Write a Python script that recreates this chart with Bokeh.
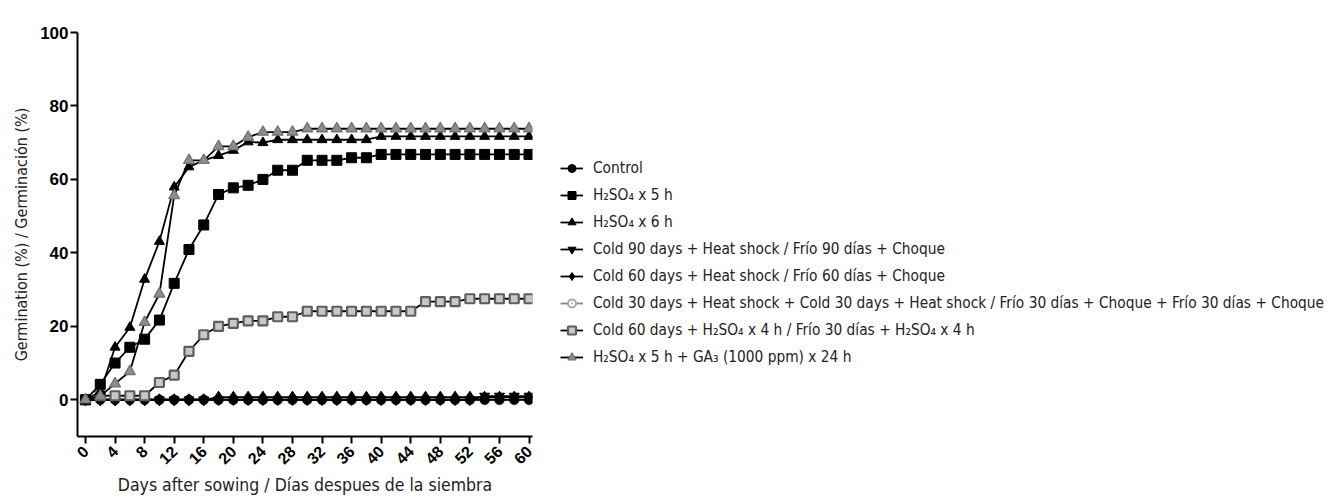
from math import pi
from bokeh.plotting import figure
from bokeh.models import Legend, LegendItem, FixedTicker, Range1d
from bokeh.embed import file_html
from bokeh.resources import INLINE

days = list(range(0, 61, 2))

control = [0] * 31
h2so4_5h = [0, 4.2, 10, 14.3, 16.5, 21.7, 31.7, 40.9, 47.6, 55.9, 57.7, 58.4, 60.0, 62.5, 62.5,
            65.2, 65.2, 65.2, 65.9, 65.9] + [66.8] * 11
h2so4_6h = [0, 2.2, 14.3, 19.7, 32.8, 43.1, 57.9, 63.4, 65.2, 66.5, 67.9, 70.2, 70.0, 70.8, 70.8,
            70.8, 70.8, 70.8, 70.8, 70.8] + [71.7] * 11
cold90_heat = [0] * 27 + [1.0] * 4
cold60_heat = [0] * 9 + [0.7] * 22
cold30_heat_cold30_heat = [0] * 31
cold60_h2so4_4h = [0, 1.1, 1.1, 1.1, 1.1, 4.7, 6.7, 13.2, 17.7, 20.0, 20.8, 21.5, 21.5, 22.6, 22.6] \
    + [24.1] * 8 + [26.7] * 3 + [27.5] * 5
h2so4_5h_ga3 = [0, 1.0, 4.4, 7.7, 21.1, 28.8, 55.6, 65.2, 65.2, 69.0, 69.0, 71.5, 72.9, 72.9, 72.9] \
    + [73.8] * 16

labels = [
    "Control",
    "H\u2082SO\u2084 x 5 h",
    "H\u2082SO\u2084 x 6 h",
    "Cold 90 days + Heat shock / Frío 90 días + Choque",
    "Cold 60 days + Heat shock / Frío 60 días + Choque",
    "Cold 30 days + Heat shock + Cold 30 days + Heat shock / Frío 30 días + Choque + Frío 30 días + Choque",
    "Cold 60 days + H\u2082SO\u2084 x 4 h / Frío 30 días + H\u2082SO\u2084 x 4 h",
    "H\u2082SO\u2084 x 5 h + GA\u2083 (1000 ppm) x 24 h",
]
x_ticks = list(range(0, 61, 4))
y_ticks = list(range(0, 101, 20))

NARROW = "DejaVu Sans Condensed"
BOLD = "Liberation Sans"

p = figure(frame_width=455, frame_height=404, min_border_left=77, min_border_top=32,
           min_border_right=780, min_border_bottom=56,
           x_range=Range1d(-1.08, 60.47), y_range=Range1d(-10, 100),
           output_backend="svg", toolbar_location=None)
p.outline_line_color = None
p.xgrid.visible = False
p.ygrid.visible = False
p.background_fill_color = "white"
p.border_fill_color = "white"

for ax in (p.xaxis[0], p.yaxis[0]):
    ax.axis_line_width = 2
    ax.major_tick_line_width = 2
    ax.major_tick_out = 7
    ax.major_tick_in = 0
    ax.minor_tick_out = 0
    ax.minor_tick_in = 0
    ax.major_label_text_font = BOLD
    ax.major_label_text_font_style = "bold"
    ax.major_label_text_font_size = "17px"
    ax.major_label_text_color = "black"
    ax.axis_label_text_font = NARROW
    ax.axis_label_text_font_style = "normal"
    ax.axis_label_text_color = "#222222"

p.xaxis.axis_label_text_font_size = "17.5px"
p.yaxis.axis_label_text_font_size = "16px"
p.xaxis.major_label_text_font_size = "16px"
p.xaxis.ticker = FixedTicker(ticks=x_ticks)
p.yaxis.ticker = FixedTicker(ticks=y_ticks)
p.xaxis.major_label_orientation = pi / 4
p.xaxis.axis_label = "Days after sowing / Días despues de la siembra"
p.yaxis.axis_label = "Germination (%) / Germinación (%)"
p.xaxis.axis_label_standoff = 2
p.yaxis.axis_label_standoff = 6
p.yaxis.major_label_standoff = 2

LW = 1.8

def series(vals, marker, size, fill, line_col, line_w=1.0, conn="black"):
    l = p.line(days, vals, line_color=conn, line_width=LW)
    m = p.scatter(days, vals, marker=marker, size=size, fill_color=fill,
                  line_color=line_col, line_width=line_w)
    return [l, m]

r_c30 = series(cold30_heat_cold30_heat, "circle_dot", 9, "white", "#a8a8a8", 2.0, conn="#8a8a8a")
r_ctrl = series(control, "circle", 9, "black", "black")
r_c60 = series(cold60_heat, "diamond", 12, "black", "black")
r_c90 = series(cold90_heat, "inverted_triangle", 10, "black", "black")
r_gsq = series(cold60_h2so4_4h, "square", 9, "#c8c8c8", "#5e5e5e", 2.2)
r_5h = series(h2so4_5h, "square", 10, "black", "black")
r_6h = series(h2so4_6h, "triangle", 10, "black", "black")
r_ga3 = series(h2so4_5h_ga3, "triangle", 11, "#8c8c8c", "#707070", 1.2)

renders = [r_ctrl, r_5h, r_6h, r_c90, r_c60, r_c30, r_gsq, r_ga3]
legend = Legend(items=[LegendItem(label=lab, renderers=r) for lab, r in zip(labels, renders)],
                location=(28, 69))
legend.label_text_font = NARROW
legend.label_text_font_size = "15.3px"
legend.label_text_color = "#222222"
legend.glyph_width = 23
legend.glyph_height = 20
legend.label_height = 20
legend.spacing = 7
legend.padding = 0
legend.margin = 0
legend.label_standoff = 10
legend.border_line_color = None
legend.background_fill_alpha = 0
p.add_layout(legend, "right")

open("out.html", "w").write(file_html(p, INLINE))
